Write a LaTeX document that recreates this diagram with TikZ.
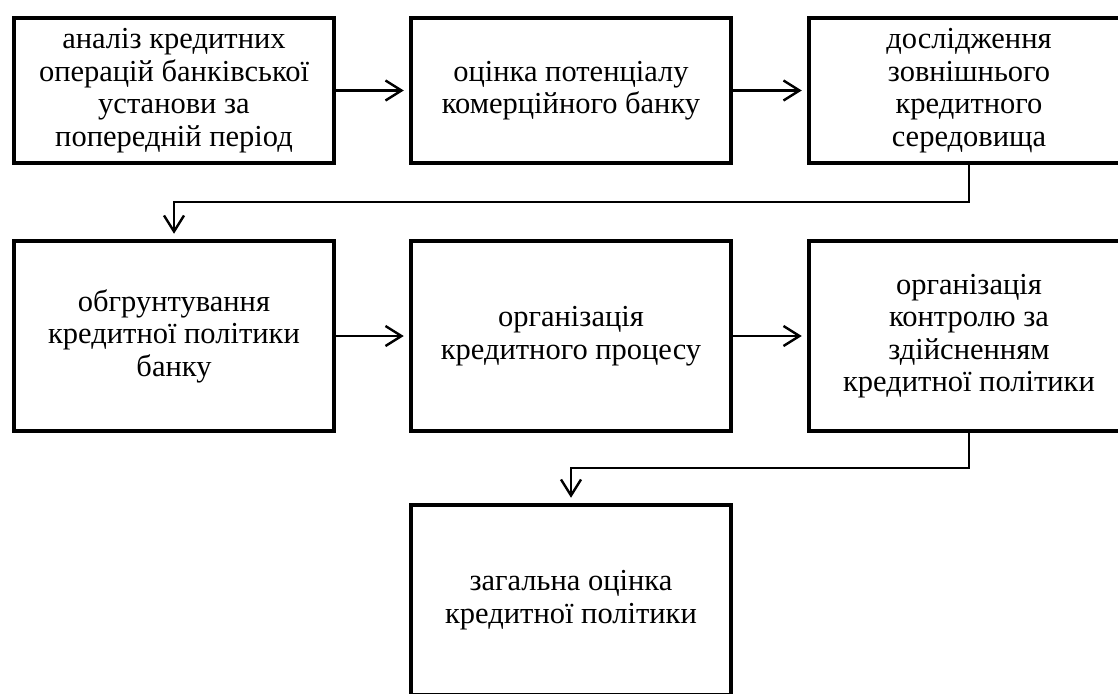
\documentclass[tikz,border=0pt]{standalone}
\usepackage{fontspec}
\setmainfont{Liberation Serif}
\usetikzlibrary{arrows.meta}
\begin{document}
\begin{tikzpicture}[x=1pt,y=-1pt,
  box/.style={draw, line width=4.5pt, minimum width=320pt, align=center, inner sep=0pt,
    font=\fontsize{30.5}{32.5}\selectfont},
  rowa/.style={box, minimum height=145pt},
  rowb/.style={box, minimum height=190pt},
  conn/.style={line width=2.2pt, -{Straight Barb[length=16pt,width=20pt,line width=2.4pt]}, shorten >=5pt}]
\useasboundingbox (0,0) rectangle (1118,693);
\clip (0,0) rectangle (1118,693);
\node[rowa] (b1) at (174,90.5) {аналіз кредитних\\операцій банківської\\установи за\\попередній період};
\node[rowa] (b2) at (571,90.5) {оцінка потенціалу\\комерційного банку};
\node[rowa] (b3) at (969,90.5) {дослідження\\зовнішнього\\кредитного\\середовища};
\node[rowb] (b4) at (174,336) {обгрунтування\\кредитної політики\\банку};
\node[rowb] (b5) at (571,336) {організація\\кредитного процесу};
\node[rowb] (b6) at (969,336) {організація\\контролю за\\здійсненням\\кредитної політики};
\node[rowb] (b7) at (571,600) {загальна оцінка\\кредитної політики};
\draw[conn] (b1) -- (b2);
\draw[conn] (b2) -- (b3);
\draw[conn] (b4) -- (b5);
\draw[conn] (b5) -- (b6);
\draw[conn] (b3.south) -- ++(0,37) -| (b4.north);
\draw[conn] (b6.south) -- ++(0,35) -| (b7.north);
\end{tikzpicture}
\end{document}
